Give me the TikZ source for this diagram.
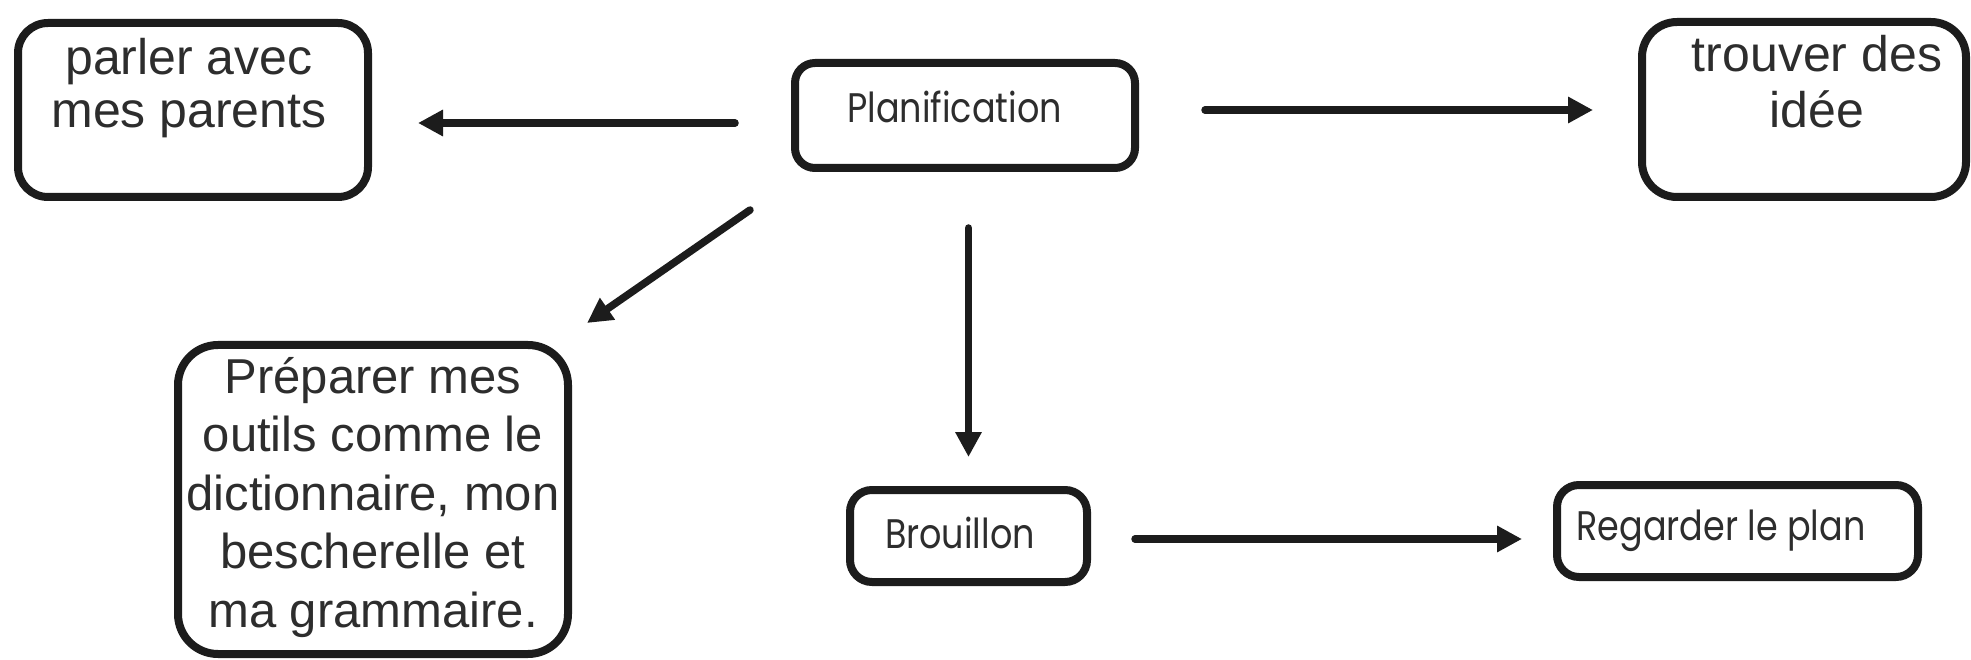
\documentclass[tikz,border=0pt]{standalone}
\usepackage{fontspec}
\usepackage{graphicx}
\setmainfont{Liberation Sans}
\newfontfamily\comicfont{Poppins}
\usetikzlibrary{arrows.meta}
\definecolor{ink}{RGB}{28,28,28}
\definecolor{txtink}{RGB}{45,45,45}
\newcommand{\tallcomic}[1]{\scalebox{1}[1.18]{#1}}
\begin{document}
\begin{tikzpicture}[x=1pt,y=-1pt,
  box/.style={draw=ink, line width=8pt, outer sep=0pt, inner sep=0pt, fill=white},
  arr/.style={draw=ink, line width=7.5pt, line cap=round, -{Triangle[length=25pt,width=25pt]}},
  atxt/.style={anchor=base, inner sep=0pt, text=txtink},
  ctxt/.style={anchor=base, inner sep=0pt, text=txtink, font=\comicfont\fontsize{35}{40}\selectfont},
]
\useasboundingbox[fill=white] (0,0) rectangle (1971,660);

% boxes
\node[box, rounded corners=30pt, minimum width=350pt, minimum height=174pt] (parler) at (193,110) {};
\node[box, rounded corners=20pt, minimum width=340pt, minimum height=105pt] (plan) at (965,115.5) {};
\node[box, rounded corners=35pt, minimum width=324pt, minimum height=175pt] (idee) at (1804,109.5) {};
\node[box, rounded corners=40pt, minimum width=390pt, minimum height=309pt] (prep) at (373,499.5) {};
\node[box, rounded corners=22pt, minimum width=237pt, minimum height=92pt] (brou) at (968.5,536) {};
\node[box, rounded corners=22pt, minimum width=361pt, minimum height=92pt] (reg) at (1737.5,531) {};

% texts
\node[atxt, font=\fontsize{50}{53}\selectfont] (parlerT) at (189,75)
  {\begin{tabular}[t]{@{}c@{}}parler avec\\mes parents\end{tabular}};
\node[atxt, font=\fontsize{50}{56}\selectfont] (ideeT) at (1817,72)
  {\begin{tabular}[t]{@{}c@{}}trouver des\\id\'ee\end{tabular}};
\node[atxt, font=\fontsize{49}{58.5}\selectfont] (prepT) at (373,393)
  {\begin{tabular}[t]{@{}c@{}}Pr\'eparer mes\\outils comme le\\dictionnaire, mon\\bescherelle et\\ma grammaire.\end{tabular}};
\node[ctxt] (planT) at (954.5,123) {\tallcomic{Planification}};
\node[ctxt] (brouT) at (960,548) {\tallcomic{Brouillon}};
\node[ctxt] (regT) at (1721,540) {\tallcomic{Regarder le plan}};

% connectors
\coordinate (diagS) at (750,210);
\coordinate (diagE) at (587,323);
\draw[arr, shorten <=60pt, shorten >=50pt] (plan.west |- 0,123) -- (parler.east |- 0,123);
\draw[arr, shorten <=70pt, shorten >=49pt] (plan.east |- 0,110) -- (idee.west |- 0,110);
\draw[arr] (diagS) -- (diagE);
\draw[arr, shorten <=60pt, shorten >=33pt] (brou.north |- plan.south) -- (brou.north);
\draw[arr, shorten <=48pt, shorten >=35pt] (brou.east |- 0,539) -- (reg.west |- 0,539);
\end{tikzpicture}
\end{document}
